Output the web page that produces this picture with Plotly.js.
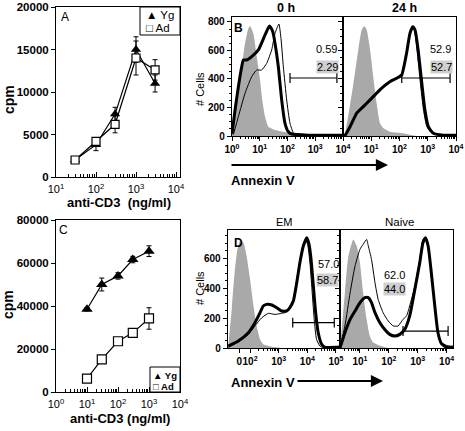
<!DOCTYPE html>
<html><head><meta charset="utf-8">
<script src="https://cdn.plot.ly/plotly-3.0.1.min.js"></script>
<style>html,body{margin:0;padding:0;background:#fff}#chart{width:465px;height:431px}</style>
</head><body><div id="chart"></div>
<script>
// ---------- Panel A: proliferation ----------
const doseA = [30, 100, 300, 1000, 3000];
const ygA = [2000, 3800, 7400, 15000, 11000];
const ygAErr = [150, 700, 800, 1500, 1000];
const adA = [2000, 4200, 6200, 14000, 12600];
const adAErr = [150, 400, 1000, 2000, 1200];
// ---------- Panel C ----------
const doseC = [10, 30, 100, 300, 1000];
const ygC = [38500, 50000, 54000, 61600, 65500];
const ygCErr = [800, 3000, 1500, 1500, 2500];
const adC = [6200, 15200, 23600, 27500, 34200];
const adCErr = [800, 1000, 800, 800, 5000];
// ---------- Panel B: Annexin V histograms (x in log10 units) ----------
const b0GrayX = [0, 0.17, 0.35, 0.47, 0.59, 0.65, 0.77, 0.89, 1.01, 1.09, 1.19, 1.31, 1.55, 2.15, 2.65, 4.0];
const b0GrayY = [15, 253, 486, 650, 755, 772, 720, 557, 393, 253, 136, 65, 42, 19, 0, 0];
const b0ThickX = [0, 0.11, 0.23, 0.35, 0.41, 0.53, 0.71, 0.95, 1.19, 1.35, 1.47, 1.55, 1.67, 1.79, 1.91, 2.03, 2.15, 2.75, 4.0];
const b0ThickY = [15, 182, 346, 486, 533, 533, 557, 604, 709, 772, 732, 651, 486, 253, 89, 30, 14, 6, 6];
const b0ThinX = [0.05, 0.23, 0.47, 0.71, 0.89, 1.07, 1.25, 1.43, 1.55, 1.69, 1.77, 1.85, 1.97, 2.09, 2.21, 2.33, 4.0];
const b0ThinY = [10, 136, 300, 416, 463, 463, 510, 604, 720, 786, 674, 486, 253, 89, 23, 5, 5];
const b24GrayX = [0, 0.07, 0.37, 0.54, 0.66, 0.76, 0.84, 0.96, 1.07, 1.19, 1.31, 1.43, 1.66, 2.13, 2.6, 4.0];
const b24GrayY = [0, 19, 370, 604, 744, 772, 744, 604, 416, 229, 89, 54, 30, 19, 0, 0];
const b24ThickX = [0, 0.07, 0.25, 0.48, 0.72, 0.96, 1.19, 1.43, 1.66, 1.90, 2.08, 2.13, 2.25, 2.37, 2.47, 2.55, 2.66, 2.79, 2.90, 3.02, 3.20, 3.55, 4.0];
const b24ThickY = [0, 5, 65, 159, 206, 253, 300, 346, 381, 405, 428, 463, 580, 720, 767, 744, 604, 370, 182, 65, 19, 6, 6];
const b24ThinX = [0, 0.07, 0.25, 0.48, 0.72, 0.96, 1.19, 1.43, 1.66, 1.90, 2.08, 2.13, 2.25, 2.37, 2.47, 2.53, 2.62, 2.74, 2.85, 2.97, 3.15, 3.5, 4.0];
const b24ThinY = [0, 5, 70, 165, 215, 262, 310, 352, 385, 410, 430, 466, 585, 725, 772, 744, 604, 370, 182, 65, 19, 5, 5];
// ---------- Panel D ----------
const emGrayX = [1.24, 1.36, 1.45, 1.54, 1.65, 1.77, 1.88, 2.0, 2.12, 2.23, 2.35, 2.46, 2.76, 3.2, 5.14];
const emGrayY = [13, 258, 480, 635, 713, 702, 613, 458, 280, 147, 58, 25, 9, 0, 0];
const emThickX = [1.24, 1.59, 1.94, 2.17, 2.35, 2.46, 2.58, 2.76, 2.93, 3.10, 3.28, 3.39, 3.51, 3.63, 3.74, 3.86, 3.98, 4.06, 4.13, 4.21, 4.29, 4.38, 4.50, 4.61, 5.14];
const emThickY = [13, 47, 102, 169, 236, 280, 291, 287, 269, 247, 247, 269, 313, 436, 569, 680, 736, 691, 591, 413, 236, 102, 25, 6, 6];
const emThinX = [1.24, 1.59, 1.94, 2.17, 2.41, 2.64, 2.87, 3.10, 3.28, 3.39, 3.51, 3.63, 3.74, 3.86, 3.95, 4.03, 4.10, 4.17, 4.24, 4.32, 4.44, 4.55, 5.14];
const emThinY = [5, 40, 91, 147, 202, 231, 224, 231, 240, 280, 324, 458, 591, 691, 724, 669, 547, 369, 191, 58, 13, 3, 3];
const nvGrayX = [0.31, 0.34, 0.48, 0.60, 0.77, 0.89, 1.0, 1.11, 1.23, 1.34, 1.46, 1.63, 1.98, 4.22];
const nvGrayY = [0, 58, 369, 613, 724, 680, 569, 369, 191, 80, 36, 20, 0, 0];
const nvThinX = [0.31, 0.48, 0.66, 0.83, 1.0, 1.11, 1.23, 1.29, 1.40, 1.52, 1.63, 1.80, 1.98, 2.15, 2.32, 2.49, 2.61, 2.72, 2.90, 3.07, 3.18, 3.27, 3.36, 3.47, 3.59, 3.70, 3.82, 3.99, 4.22];
const nvThinY = [0, 147, 369, 547, 658, 691, 724, 680, 591, 436, 324, 236, 180, 147, 147, 191, 213, 280, 413, 591, 724, 736, 680, 502, 280, 102, 36, 18, 5];
const nvThickX = [0.31, 0.48, 0.66, 0.83, 1.0, 1.17, 1.29, 1.40, 1.52, 1.69, 1.86, 2.03, 2.21, 2.38, 2.55, 2.72, 2.90, 3.07, 3.18, 3.27, 3.36, 3.47, 3.59, 3.70, 3.82, 3.99, 4.22];
const nvThickY = [0, 102, 191, 247, 302, 336, 336, 302, 236, 169, 124, 91, 80, 91, 124, 213, 391, 569, 702, 736, 680, 502, 280, 102, 29, 6, 6];
// gates
const gateB0 = [2.09, 3.78];
const gateB24 = [2.08, 3.79];
const gateEM = [3.49, 4.94];
const gateNv = [2.49, 4.05];
const gateLevelB = 407, gateLevelEM = 169, gateLevelNv = 113;
// percentages
const pctB0 = ['0.59', '2.29'];
const pctB24 = ['52.9', '52.7'];
const pctEM = ['57.0', '58.7'];
const pctNv = ['62.0', '44.0'];

const W = 465, H = 431;
const X = p => p / W, Y = p => 1 - p / H;
const F = 'Liberation Sans, Arial, Helvetica, sans-serif';
const K = '#000';
const GRAY = '#a9a9a9';

function logMinor(k0, k1) { const v = []; for (let k = k0; k < k1; k++) for (let m = 2; m <= 9; m++) v.push(m * Math.pow(10, k)); return v; }
function uMinor(k0, k1) { const v = []; for (let k = k0; k < k1; k++) for (let m = 2; m <= 9; m++) v.push(k + Math.log10(m)); return v; }
const sup = n => '10<sup>' + n + '</sup>';

const traces = [];
function doseTrace(x, y, err, ax, ay, tri, size) {
  traces.push({
    x: x, y: y, xaxis: ax, yaxis: ay, mode: 'lines+markers', showlegend: false,
    line: { color: K, width: 1.2 },
    marker: tri ? { symbol: 'triangle-up', size: size, color: K }
                : { symbol: 'square', size: size - 1, color: '#fff', line: { color: K, width: 1.2 } },
    error_y: { type: 'data', array: err, color: K, thickness: 1, width: 2.5 }
  });
}
doseTrace(doseA, ygA, ygAErr, 'x', 'y', true, 9);
doseTrace(doseA, adA, adAErr, 'x', 'y', false, 9);
doseTrace(doseC, ygC, ygCErr, 'x2', 'y2', true, 10);
doseTrace(doseC, adC, adCErr, 'x2', 'y2', false, 10);

function hist(gx, gy, tkx, tky, tnx, tny, ax, ay) {
  traces.push({ x: gx, y: gy, xaxis: ax, yaxis: ay, mode: 'lines', fill: 'tozeroy', fillcolor: GRAY, line: { width: 0, color: GRAY, shape: 'spline', smoothing: 0.5 }, showlegend: false });
  traces.push({ x: tnx, y: tny, xaxis: ax, yaxis: ay, mode: 'lines', line: { width: 1, color: K, shape: 'spline', smoothing: 0.5 }, showlegend: false });
  traces.push({ x: tkx, y: tky, xaxis: ax, yaxis: ay, mode: 'lines', line: { width: 3, color: K, shape: 'spline', smoothing: 0.5 }, showlegend: false });
}
hist(b0GrayX, b0GrayY, b0ThickX, b0ThickY, b0ThinX, b0ThinY, 'x3', 'y3');
hist(b24GrayX, b24GrayY, b24ThickX, b24ThickY, b24ThinX, b24ThinY, 'x4', 'y4');
hist(emGrayX, emGrayY, emThickX, emThickY, emThinX, emThinY, 'x5', 'y5');
hist(nvGrayX, nvGrayY, nvThickX, nvThickY, nvThinX, nvThinY, 'x6', 'y6');

function gate(g, lvl, cap, ax, ay) {
  traces.push({ x: g, y: [lvl, lvl], xaxis: ax, yaxis: ay, mode: 'lines', line: { color: K, width: 1.2 }, showlegend: false,
    error_y: { type: 'constant', value: cap, width: 0, thickness: 1.2, color: K } });
}
gate(gateB0, gateLevelB, 35, 'x3', 'y3');
gate(gateB24, gateLevelB, 35, 'x4', 'y4');
gate(gateEM, gateLevelEM, 33, 'x5', 'y5');
gate(gateNv, gateLevelNv, 33, 'x6', 'y6');

const baseAx = { showline: true, mirror: true, linecolor: K, linewidth: 1, showgrid: false, zeroline: false, tickcolor: K, automargin: false, tickangle: 0 };
const bigTick = { family: F, size: 11, color: K };
const yTick = { family: F, size: 11.5, color: K, weight: 'bold' };
const smallTick = { family: F, size: 10, color: K, weight: 'bold' };

const layout = {
  width: W, height: H, margin: { l: 0, r: 0, t: 0, b: 0 }, paper_bgcolor: '#fff', plot_bgcolor: '#fff',
  showlegend: false, font: { family: F, color: K },
  xaxis: Object.assign({}, baseAx, { domain: [X(56), X(180)], anchor: 'y', type: 'log', range: [1, 4.1],
    tickmode: 'array', tickvals: [10, 100, 1000, 10000], ticktext: [sup(1), sup(2), sup(3), sup(4)],
    ticks: 'inside', ticklen: 5, tickfont: bigTick, ticklabelstandoff: 2,
    minor: { tickmode: 'array', tickvals: logMinor(1, 4), ticks: 'inside', ticklen: 3, tickcolor: K } }),
  yaxis: Object.assign({}, baseAx, { domain: [Y(177), Y(7)], anchor: 'x', range: [0, 20000],
    tickvals: [0, 5000, 10000, 15000, 20000], tickformat: 'd', ticks: 'outside', ticklen: 4, tickfont: yTick }),
  xaxis2: Object.assign({}, baseAx, { domain: [X(56), X(180)], anchor: 'y2', type: 'log', range: [0, 4],
    tickmode: 'array', tickvals: [1, 10, 100, 1000, 10000], ticktext: [sup(0), sup(1), sup(2), sup(3), sup(4)],
    ticks: 'inside', ticklen: 5, tickfont: bigTick, ticklabelstandoff: 2,
    minor: { tickmode: 'array', tickvals: logMinor(0, 4), ticks: 'inside', ticklen: 3, tickcolor: K } }),
  yaxis2: Object.assign({}, baseAx, { domain: [Y(392), Y(220)], anchor: 'x2', range: [0, 80000],
    tickvals: [0, 20000, 40000, 60000, 80000], tickformat: 'd', ticks: 'outside', ticklen: 4, tickfont: yTick }),
  xaxis3: Object.assign({}, baseAx, { domain: [X(232), X(343)], anchor: 'y3', range: [0, 4], linewidth: 1.3,
    tickmode: 'array', tickvals: [0, 1, 2, 3, 4], ticktext: [sup(0), sup(1), sup(2), sup(3), sup(4)],
    ticks: 'outside', ticklen: 4, tickfont: smallTick,
    minor: { tickmode: 'array', tickvals: uMinor(0, 4), ticks: 'outside', ticklen: 2, tickcolor: K } }),
  yaxis3: Object.assign({}, baseAx, { domain: [Y(136), Y(17)], anchor: 'x3', range: [0, 835], linewidth: 1.3,
    tickvals: [0, 200, 400, 600, 800], ticks: 'outside', ticklen: 4, tickfont: smallTick,
    minor: { dtick: 50, ticks: 'outside', ticklen: 2, tickcolor: K } }),
  xaxis4: Object.assign({}, baseAx, { domain: [X(343), X(456)], anchor: 'y4', range: [0, 4], linewidth: 1.3,
    tickmode: 'array', tickvals: [1, 2, 3, 4], ticktext: [sup(1), sup(2), sup(3), sup(4)],
    ticks: 'outside', ticklen: 4, tickfont: smallTick,
    minor: { tickmode: 'array', tickvals: uMinor(0, 4), ticks: 'outside', ticklen: 2, tickcolor: K } }),
  yaxis4: Object.assign({}, baseAx, { domain: [Y(136), Y(17)], anchor: 'x4', range: [0, 835], linewidth: 1.3,
    tickvals: [0, 200, 400, 600, 800], showticklabels: false, ticks: 'outside', ticklen: 4,
    minor: { dtick: 50, ticks: 'outside', ticklen: 2, tickcolor: K } }),
  xaxis5: Object.assign({}, baseAx, { domain: [X(228), X(340)], anchor: 'y5', range: [1.23, 5.14], linewidth: 1.3,
    tickmode: 'array', tickvals: [1.62, 2, 3, 4, 5], ticktext: ['0', sup(2), sup(3), sup(4), sup(5)],
    ticks: 'outside', ticklen: 4, tickfont: smallTick,
    minor: { tickmode: 'array', tickvals: uMinor(2, 5), ticks: 'outside', ticklen: 2, tickcolor: K } }),
  yaxis5: Object.assign({}, baseAx, { domain: [Y(348), Y(230)], anchor: 'x5', range: [0, 787], linewidth: 1.3,
    tickvals: [0, 200, 400, 600], ticks: 'outside', ticklen: 4, tickfont: smallTick,
    minor: { dtick: 50, ticks: 'outside', ticklen: 2, tickcolor: K } }),
  xaxis6: Object.assign({}, baseAx, { domain: [X(340), X(453)], anchor: 'y6', range: [0.31, 4.22], linewidth: 1.3,
    tickmode: 'array', tickvals: [1, 2, 3, 4], ticktext: [sup(1), sup(2), sup(3), sup(4)],
    ticks: 'outside', ticklen: 4, tickfont: smallTick,
    minor: { tickmode: 'array', tickvals: uMinor(0, 4), ticks: 'outside', ticklen: 2, tickcolor: K } }),
  yaxis6: Object.assign({}, baseAx, { domain: [Y(348), Y(230)], anchor: 'x6', range: [0, 787], linewidth: 1.3,
    tickvals: [0, 200, 400, 600], showticklabels: false, ticks: 'outside', ticklen: 4,
    minor: { dtick: 50, ticks: 'outside', ticklen: 2, tickcolor: K } }),
  shapes: [
    { type: 'rect', xref: 'paper', yref: 'paper', x0: X(140), x1: X(180), y0: Y(35), y1: Y(7), line: { color: K, width: 1 }, fillcolor: '#fff' },
    { type: 'rect', xref: 'paper', yref: 'paper', x0: X(150), x1: X(180), y0: Y(392), y1: Y(367), line: { color: K, width: 1 }, fillcolor: '#fff' }
  ],
  annotations: []
};

function ann(text, x, y, opts) {
  layout.annotations.push(Object.assign({ text: text, x: X(x), y: Y(y), xref: 'paper', yref: 'paper', showarrow: false,
    xanchor: 'center', yanchor: 'middle', font: { family: F, size: 12, color: K } }, opts || {}));
}
const bold = (s) => ({ family: F, size: s, color: K, weight: 'bold' });
const reg = (s) => ({ family: F, size: s, color: K });

ann('A', 65, 17, { font: reg(12) });
ann('B', 238, 28, { font: bold(12) });
ann('C', 63, 230, { font: reg(12) });
ann('D', 238, 243, { font: bold(12) });
ann('cpm', 9, 100, { textangle: -90, font: bold(14) });
ann('cpm', 8, 305, { textangle: -90, font: bold(14) });
ann('anti-CD3&nbsp;&nbsp;(ng/ml)', 119, 203, { font: bold(13) });
ann('anti-CD3 (ng/ml)', 120, 418, { font: bold(13) });
ann('# Cells', 200, 89, { textangle: -90, font: reg(11) });
ann('# Cells', 200, 288, { textangle: -90, font: reg(11) });
ann('0 h', 286, 8, { font: bold(12.5) });
ann('24 h', 404, 8, { font: bold(12.5) });
ann('EM', 284, 222, { font: reg(11) });
ann('Naive', 399, 222, { font: reg(11.5) });
ann('Annexin V', 229, 180, { xanchor: 'left', font: bold(13) });
ann('Annexin V', 229, 382, { xanchor: 'left', font: bold(13) });
// legend entries
ann('▲ Yg', 144, 15, { xanchor: 'left', font: reg(11.5) });
ann('□ Ad', 144, 28, { xanchor: 'left', font: reg(11.5) });
ann('▲ Yg', 151, 375, { xanchor: 'left', font: bold(9.5) });
ann('□ Ad', 151, 386, { xanchor: 'left', font: bold(9.5) });
// percentages
ann(pctB0[0], 339, 49, { xanchor: 'right', font: reg(11) });
ann(pctB0[1], 339, 67, { xanchor: 'right', font: reg(11), bgcolor: '#cfcfcf', borderpad: 0 });
ann(pctB24[0], 453, 49, { xanchor: 'right', font: reg(11) });
ann(pctB24[1], 453, 67, { xanchor: 'right', font: reg(11), bgcolor: '#cfcfcf', borderpad: 0 });
ann(pctEM[0], 316, 264, { xanchor: 'left', font: reg(11) });
ann(pctEM[1], 316, 280, { xanchor: 'left', font: reg(11), bgcolor: '#cfcfcf', borderpad: 0 });
ann(pctNv[0], 394, 275, { font: reg(11) });
ann(pctNv[1], 394, 289, { font: reg(11), bgcolor: '#cfcfcf', borderpad: 0 });
// arrows
layout.annotations.push({ text: '', x: X(388), y: Y(165), xref: 'paper', yref: 'paper', ax: -158, ay: 0, showarrow: true,
  arrowhead: 2, arrowsize: 1.1, arrowwidth: 2.2, arrowcolor: K });
layout.annotations.push({ text: '', x: X(383), y: Y(381), xref: 'paper', yref: 'paper', ax: -87, ay: 0, showarrow: true,
  arrowhead: 2, arrowsize: 1.1, arrowwidth: 2.2, arrowcolor: K });

Plotly.newPlot('chart', traces, layout, { staticPlot: true, displayModeBar: false });
</script></body></html>
